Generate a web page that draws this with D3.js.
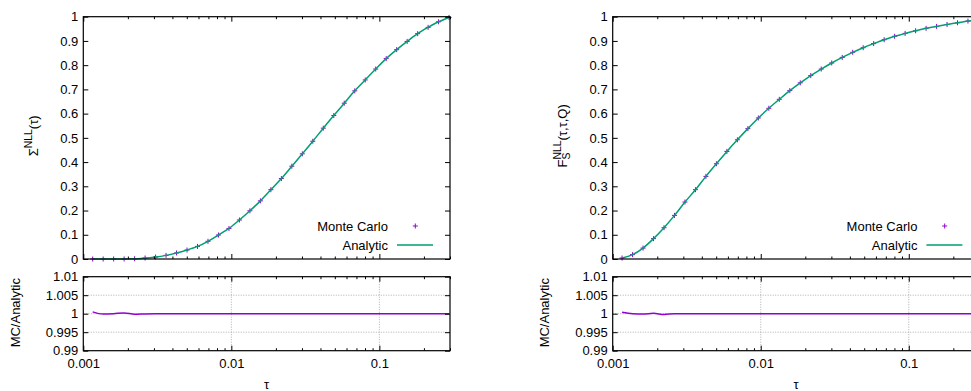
<!DOCTYPE html>
<html>
<head>
<meta charset="utf-8">
<script src="https://cdn.jsdelivr.net/npm/d3@7"></script>
<style>
  body { margin: 0; background: #fff; }
  svg text { font-family: "Liberation Sans", Arial, Helvetica, sans-serif; font-size: 13px; fill: #000; }
</style>
</head>
<body>
<svg id="chart" width="971" height="391"></svg>
<script>
// sample points in tau (same for both panels)
const tau = [0.001157, 0.001362, 0.001603, 0.001887, 0.002221, 0.002615, 0.003078, 0.003623,
  0.004264, 0.005019, 0.005908, 0.006955, 0.008187, 0.009637, 0.01134, 0.01335, 0.01572,
  0.01850, 0.02178, 0.02563, 0.03017, 0.03552, 0.04181, 0.04921, 0.05793, 0.06819, 0.08026,
  0.09447, 0.1112, 0.1309, 0.1541, 0.1814, 0.2135, 0.2511, 0.2955];

// left panel: Sigma^NLL(tau)
const sigmaMC = [0.0, 0.0, 0.0001, 0.0003, 0.001, 0.004, 0.008, 0.015, 0.025, 0.037, 0.052,
  0.073, 0.099, 0.126, 0.161, 0.199, 0.240, 0.286, 0.332, 0.383, 0.434, 0.486, 0.540, 0.592,
  0.643, 0.694, 0.739, 0.784, 0.827, 0.864, 0.898, 0.930, 0.956, 0.979, 0.997];
const sigmaAnalytic = [0.0, 0.0, 0.0001, 0.0003, 0.001, 0.004, 0.008, 0.015, 0.025, 0.037, 0.052,
  0.073, 0.099, 0.126, 0.161, 0.199, 0.240, 0.286, 0.332, 0.383, 0.434, 0.486, 0.540, 0.592,
  0.643, 0.694, 0.739, 0.784, 0.827, 0.864, 0.898, 0.930, 0.956, 0.979, 0.997];
const sigmaRatio = [1.0005, 0.9999, 1.0, 1.0002, 0.99985, 0.99995, 1.0, 1.0, 1.0, 1.0, 1.0,
  1.0, 1.0, 1.0, 1.0, 1.0, 1.0, 1.0, 1.0, 1.0, 1.0, 1.0, 1.0, 1.0, 1.0, 1.0, 1.0, 1.0, 1.0,
  1.0, 1.0, 1.0, 1.0, 1.0, 1.0];

// right panel: F_S^NLL(tau,tau,Q)
const fsMC = [0.004, 0.018, 0.045, 0.084, 0.129, 0.180, 0.235, 0.286, 0.341, 0.393, 0.444,
  0.492, 0.538, 0.582, 0.622, 0.659, 0.695, 0.727, 0.757, 0.784, 0.809, 0.832, 0.853, 0.872,
  0.889, 0.905, 0.919, 0.931, 0.942, 0.952, 0.960, 0.968, 0.975, 0.982, 0.987];
const fsAnalytic = [0.004, 0.018, 0.045, 0.084, 0.129, 0.180, 0.235, 0.286, 0.341, 0.393, 0.444,
  0.492, 0.538, 0.582, 0.622, 0.659, 0.695, 0.727, 0.757, 0.784, 0.809, 0.832, 0.853, 0.872,
  0.889, 0.905, 0.919, 0.931, 0.942, 0.952, 0.960, 0.968, 0.975, 0.982, 0.987];
const fsRatio = [1.0004, 1.0, 0.9999, 1.0001, 0.9998, 1.0, 1.0, 1.0, 1.0, 1.0, 1.0,
  1.0, 1.0, 1.0, 1.0, 1.0, 1.0, 1.0, 1.0, 1.0, 1.0, 1.0, 1.0, 1.0, 1.0, 1.0, 1.0, 1.0, 1.0,
  1.0, 1.0, 1.0, 1.0, 1.0, 1.0];

const xDomain = [0.001, 0.3];
const xMajorTicks = [0.001, 0.01, 0.1];
const xMajorLabels = ['0.001', '0.01', '0.1'];
const xMinorTicks = [0.002, 0.003, 0.004, 0.005, 0.006, 0.007, 0.008, 0.009,
  0.02, 0.03, 0.04, 0.05, 0.06, 0.07, 0.08, 0.09, 0.2, 0.3];
const mainYTicks = [0, 0.1, 0.2, 0.3, 0.4, 0.5, 0.6, 0.7, 0.8, 0.9, 1];
const mainYLabels = ['0', '0.1', '0.2', '0.3', '0.4', '0.5', '0.6', '0.7', '0.8', '0.9', '1'];
const ratioYTicks = [0.99, 0.995, 1, 1.005, 1.01];
const ratioYLabels = ['0.99', '0.995', '1', '1.005', '1.01'];
const legendNames = ['Monte Carlo', 'Analytic'];

const mcColor = '#9400d3';
const anColor = '#009e73';

// layout
let plotW = 366.7;
let mainTop = 16.7, mainBottom = 259;
let ratioTop = 276.7, ratioBottom = 350.7;
let majorLen = 5, minorLen = 2.5;

let svg = d3.select('#chart');

function clean(g) {
  g.select('.domain').remove();
  g.selectAll('.tick line').attr('stroke', '#000').attr('stroke-width', 1);
}

function frame(g, sx, sy, top, bottom, yTicks, yLabels, withXLabels) {
  // x ticks, bottom (inward)
  g.append('g').attr('transform', `translate(0,${bottom})`)
    .call(d3.axisBottom(sx).tickValues(xMinorTicks).tickSize(-minorLen).tickFormat(''))
    .call(clean);
  g.append('g').attr('transform', `translate(0,${bottom})`)
    .call(d3.axisBottom(sx).tickValues(xMajorTicks).tickSize(-majorLen).tickPadding(8)
      .tickFormat((d, i) => withXLabels ? xMajorLabels[i] : ''))
    .call(clean);
  // x ticks, top (mirrored)
  g.append('g').attr('transform', `translate(0,${top})`)
    .call(d3.axisTop(sx).tickValues(xMinorTicks).tickSize(-minorLen).tickFormat(''))
    .call(clean);
  g.append('g').attr('transform', `translate(0,${top})`)
    .call(d3.axisTop(sx).tickValues(xMajorTicks).tickSize(-majorLen).tickFormat(''))
    .call(clean);
  // y ticks
  g.append('g')
    .call(d3.axisLeft(sy).tickValues(yTicks).tickSize(-majorLen).tickPadding(5)
      .tickFormat((d, i) => yLabels[i]))
    .call(clean);
  g.append('g').attr('transform', `translate(${plotW},0)`)
    .call(d3.axisRight(sy).tickValues(yTicks).tickSize(-majorLen).tickFormat(''))
    .call(clean);
  g.selectAll('.tick text').attr('fill', '#000');
  g.append('rect')
    .attr('x', 0).attr('y', top)
    .attr('width', plotW).attr('height', bottom - top)
    .attr('fill', 'none').attr('stroke', '#000').attr('stroke-width', 1.2);
}

function plus(g, x, y, r) {
  g.append('path')
    .attr('d', `M${x - r},${y}H${x + r}M${x},${y - r}V${y + r}`)
    .attr('stroke', mcColor).attr('stroke-width', 1).attr('fill', 'none');
}

function drawPanel(p) {
  let g = svg.append('g').attr('transform', `translate(${p.left},0)`);
  let sx = d3.scaleLog().domain(xDomain).range([0, plotW]);
  let sy = d3.scaleLinear().domain([0, 1]).range([mainBottom, mainTop]);
  let sr = d3.scaleLinear().domain([0.99, 1.01]).range([ratioBottom, ratioTop]);

  // ---- main plot
  let main = g.append('g');
  let line = d3.line()
    .x((d, i) => sx(tau[i])).y(d => sy(d))
    .curve(d3.curveMonotoneX);
  let pts = main.append('g');
  p.mc.forEach((v, i) => plus(pts, sx(tau[i]), sy(v), 2.5));
  main.append('path')
    .attr('d', line(p.analytic))
    .attr('fill', 'none').attr('stroke', anColor).attr('stroke-width', 1.5);

  frame(main, sx, sy, mainTop, mainBottom, mainYTicks, mainYLabels, false);

  // legend
  let lx = 304.7;
  main.append('text').attr('x', lx).attr('y', 230.5).attr('text-anchor', 'end').text(legendNames[0]);
  plus(main, 332, 226, 2.5);
  main.append('text').attr('x', lx).attr('y', 249.5).attr('text-anchor', 'end').text(legendNames[1]);
  main.append('line')
    .attr('x1', 313.7).attr('x2', 349.7).attr('y1', 245).attr('y2', 245)
    .attr('stroke', anColor).attr('stroke-width', 1.5);

  // y label with super/subscripts
  let yl = main.append('text')
    .attr('transform', `translate(-45.5,${(mainTop + mainBottom) / 2 - 2}) rotate(-90)`)
    .attr('text-anchor', 'middle');
  p.ylabel(yl);

  // ---- ratio plot
  let ratio = g.append('g');
  let grid = ratio.append('g')
    .attr('stroke', '#9a9a9a').attr('stroke-width', 0.8).attr('stroke-dasharray', '1,1.5');
  grid.selectAll('.gy').data(ratioYTicks.slice(1, -1)).join('line')
    .attr('x1', 0).attr('x2', plotW).attr('y1', d => sr(d)).attr('y2', d => sr(d));
  grid.selectAll('.gx').data(xMajorTicks.slice(1)).join('line')
    .attr('x1', d => sx(d)).attr('x2', d => sx(d)).attr('y1', ratioTop).attr('y2', ratioBottom);

  let rline = d3.line()
    .x((d, i) => sx(tau[i])).y(d => sr(d))
    .curve(d3.curveMonotoneX);
  ratio.append('path')
    .attr('d', rline(p.ratio))
    .attr('fill', 'none').attr('stroke', mcColor).attr('stroke-width', 1.5);

  frame(ratio, sx, sr, ratioTop, ratioBottom, ratioYTicks, ratioYLabels, true);

  ratio.append('text')
    .attr('transform', `translate(-63.5,${(ratioTop + ratioBottom) / 2 - 1}) rotate(-90)`)
    .attr('text-anchor', 'middle')
    .text('MC/Analytic');

  ratio.append('text')
    .attr('x', plotW / 2).attr('y', 389)
    .attr('text-anchor', 'middle')
    .text('τ');
}

drawPanel({
  left: 83.3,
  mc: sigmaMC, analytic: sigmaAnalytic, ratio: sigmaRatio,
  ylabel(t) {
    t.append('tspan').text('Σ');
    t.append('tspan').attr('dy', -5.5).style('font-size', '10.4px').text('NLL');
    t.append('tspan').attr('dy', 5.5).text('(τ)');
  }
});

drawPanel({
  left: 612.7,
  mc: fsMC, analytic: fsAnalytic, ratio: fsRatio,
  ylabel(t) {
    t.append('tspan').text('F');
    t.append('tspan').attr('dy', 3).style('font-size', '10.4px').text('S');
    t.append('tspan').attr('dx', -7).attr('dy', -9).style('font-size', '10.4px').text('NLL');
    t.append('tspan').attr('dy', 6).text('(τ,τ,Q)');
  }
});
</script>
</body>
</html>
